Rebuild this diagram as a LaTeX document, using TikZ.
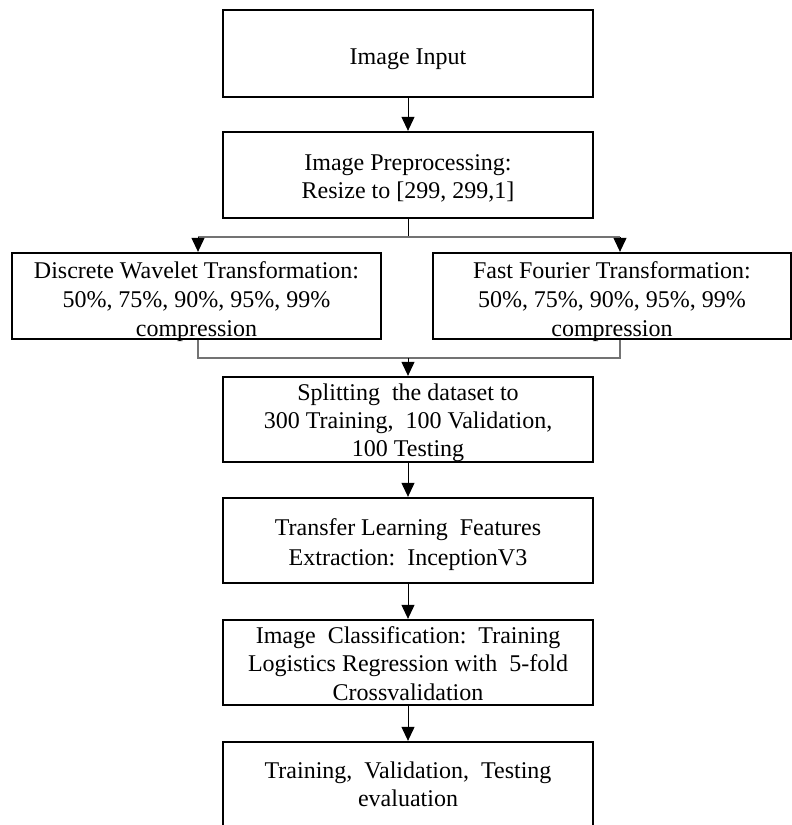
\documentclass[tikz,border=0pt]{standalone}
\usepackage{fontspec}
\setmainfont{Liberation Serif}
\usetikzlibrary{arrows.meta,calc}
\tikzset{
  box/.style={draw=black, line width=2.3pt, rectangle, inner sep=0pt, align=center,
    font=\fontsize{24}{28.5}\selectfont, minimum height=86pt, text depth=0pt},
  mainbox/.style={box, minimum width=370pt},
  stem/.style={draw=black, line width=1pt},
  grayline/.style={draw=black!55, line width=1.3pt},
  arr/.style={stem, -{Triangle[width=13pt,length=14pt]}}
}
\begin{document}
\begin{tikzpicture}[x=1pt,y=-1pt]
\useasboundingbox (0,0) rectangle (792,825);
\clip (0,0) rectangle (792,825);

\node[mainbox, minimum height=87pt, text height=22pt] (inp) at (408,53.5) {Image Input};
\node[mainbox, font=\fontsize{24}{28}\selectfont, text height=47pt] (prep) at (408,175) {Image Preprocessing:\\Resize to [299, 299,1]};
\node[box, minimum width=369pt, font=\fontsize{24}{29}\selectfont, text height=81pt] (dwt) at (196.5,296) {Discrete Wavelet Transformation:\\50\%, 75\%, 90\%, 95\%, 99\%\\compression};
\node[box, minimum width=358pt, font=\fontsize{24}{29}\selectfont, text height=81pt] (fft) at (612,296) {Fast Fourier Transformation:\\50\%, 75\%, 90\%, 95\%, 99\%\\compression};
\node[mainbox, minimum height=85pt, font=\fontsize{24}{28}\selectfont, text height=74pt] (split) at (408,419.5) {Splitting\ \ the dataset to\\300 Training,\ \ 100 Validation,\\100 Testing};
\node[mainbox, minimum height=85pt, font=\fontsize{24}{30}\selectfont, text height=50pt] (tl) at (408,540.5) {Transfer Learning\ \ Features\\Extraction:\ \ InceptionV3};
\node[mainbox, minimum height=85pt, text height=75pt] (cls) at (408,662.5) {Image\ \ Classification:\ \ Training\\Logistics Regression with\ \ 5-fold\\Crossvalidation};
\node[mainbox, minimum height=100pt, font=\fontsize{24}{28}\selectfont, text height=29pt] (ev) at (408,792) {Training,\ \ Validation,\ \ Testing\\evaluation};

% straight arrows
\draw[arr] (inp.south) -- (prep.north);
\draw[arr] (split.south) -- (tl.north);
\draw[arr] (tl.south) -- (cls.north);
\draw[arr] (cls.south) -- (ev.north);

% branch
\coordinate (bm) at (408,237);
\coordinate (bl) at (198,237);
\coordinate (br) at (620,237);
\draw[stem] (prep.south) -- (bm);
\draw[grayline] (bl) -- (br);
\draw[arr] (bl) -- (dwt.north -| bl);
\draw[arr] (br) -- (fft.north -| br);

% merge
\coordinate (ml) at (198,358);
\coordinate (mr) at (620,358);
\coordinate (mm) at (408,358);
\draw[grayline] (dwt.south -| ml) -- (ml) -- (mr) -- (fft.south -| mr);
\draw[arr] (mm) -- (split.north);
\end{tikzpicture}
\end{document}
